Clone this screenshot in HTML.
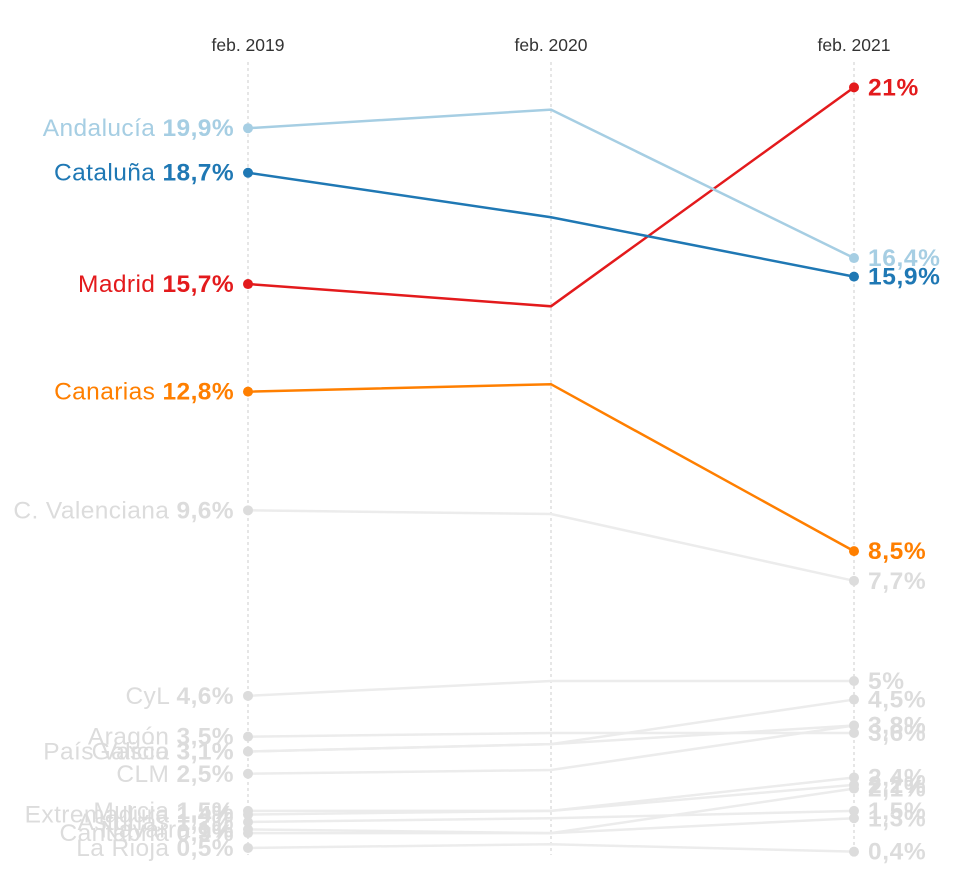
<!DOCTYPE html>
<html><head><meta charset="utf-8"><style>
body{margin:0;background:#fff;}
svg{font-family:"Liberation Sans",sans-serif;}
</style></head><body>
<svg id="c" width="958" height="885"></svg>
<script>
const periods=["feb. 2019","feb. 2020","feb. 2021"];
const regions=["Andalucía","Cataluña","Madrid","Canarias","C. Valenciana","CyL","Aragón","País Vasco","Galicia","CLM","Murcia","Extremadura","Asturias","Navarra","Cantabria","La Rioja"];
const v2019=[19.9,18.7,15.7,12.8,9.6,4.6,3.5,3.1,3.1,2.5,1.5,1.4,1.2,1.0,0.9,0.5];
const v2020=[20.4,17.5,15.1,13.0,9.5,5.0,3.6,3.3,3.3,2.6,1.5,1.5,1.3,0.9,0.9,0.6];
const v2021=[16.4,15.9,21,8.5,7.7,5,3.6,3.8,4.5,3.8,2.4,2.2,1.5,2.1,1.3,0.4];
const colors=["#a6cee3","#1f78b4","#e31a1c","#ff7f00"];
const svg=document.getElementById('c');
const NS="http://www.w3.org/2000/svg";
const xs=[248,551,854];
const y=v=>866.5-37.1*v;
const fmt=v=>String(v).replace('.',',')+'%';
function mk(t,a){const e=document.createElementNS(NS,t);for(const k in a)e.setAttribute(k,a[k]);svg.appendChild(e);return e;}
periods.forEach((p,i)=>{
  const g=mk('line',{x1:xs[i],x2:xs[i],y1:62,y2:855,stroke:'#ccc','stroke-dasharray':'3,3','stroke-width':1});
  
  
  const t=mk('text',{x:xs[i],y:51,'text-anchor':'middle','font-size':17.5,fill:'#333'});
  t.textContent=p;
  
  
});
const order=regions.map((r,i)=>i).reverse();
order.forEach(i=>{
  const col=i<4?colors[i]:'#dcdcdc';
  const lc=i<4?colors[i]:'#ececec';
  const vals=[v2019[i],v2020[i],v2021[i]];
  const pl=mk('polyline',{points:vals.map((v,j)=>xs[j]+','+y(v)).join(' '),fill:'none',stroke:lc,'stroke-width':2.5});
  
  
  [0,2].forEach(j=>{
    const c=mk('circle',{cx:xs[j],cy:y(vals[j]),r:5,fill:col});
    
    
  });
  const t=mk('text',{x:234,y:y(v2019[i])+8,'text-anchor':'end','font-size':24.5,'letter-spacing':0.4,fill:col});
  t.innerHTML=regions[i]+' <tspan font-weight="bold">'+fmt(v2019[i])+'</tspan>';
  
  
  const t2=mk('text',{x:868,y:y(v2021[i])+8,'font-size':24.5,'font-weight':'bold','letter-spacing':0.6,fill:col});
  t2.textContent=fmt(v2021[i]);
  
  
});
</script>
</body></html>
